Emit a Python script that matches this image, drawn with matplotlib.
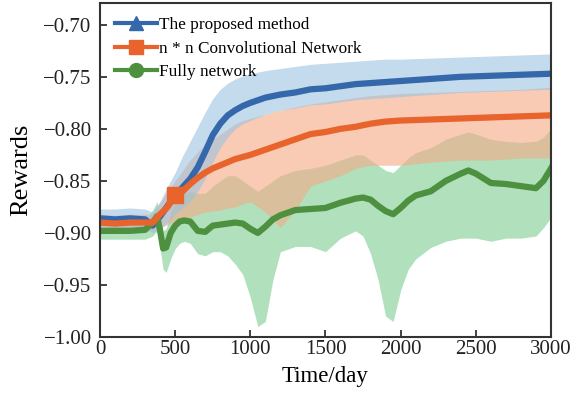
import matplotlib
matplotlib.use('Agg')
from matplotlib import pyplot as plt

# values (days, rewards)
blue_days = [0, 100, 200, 300, 350, 400, 450, 500, 550, 600, 650, 700, 750, 800,
             850, 900, 950, 1000, 1100, 1200, 1300, 1400, 1500, 1600, 1700, 1800,
             1900, 2000, 2200, 2400, 2600, 2800, 3000]
blue_mean = [-0.886, -0.887, -0.886, -0.887, -0.893, -0.884, -0.874, -0.864, -0.856,
             -0.848, -0.837, -0.822, -0.806, -0.795, -0.787, -0.782, -0.778, -0.775,
             -0.770, -0.767, -0.765, -0.762, -0.761, -0.759, -0.757, -0.756, -0.755,
             -0.754, -0.752, -0.750, -0.749, -0.748, -0.747]
blue_upper = [-0.877, -0.877, -0.876, -0.877, -0.880, -0.870, -0.855, -0.842, -0.826,
              -0.812, -0.798, -0.784, -0.771, -0.762, -0.756, -0.752, -0.749, -0.747,
              -0.744, -0.742, -0.740, -0.738, -0.737, -0.736, -0.735, -0.734, -0.733,
              -0.733, -0.732, -0.731, -0.730, -0.729, -0.728]
blue_lower = [-0.894, -0.895, -0.894, -0.895, -0.900, -0.896, -0.890, -0.882, -0.876,
              -0.870, -0.860, -0.848, -0.832, -0.818, -0.808, -0.800, -0.795, -0.792,
              -0.786, -0.782, -0.780, -0.777, -0.776, -0.774, -0.772, -0.771, -0.770,
              -0.769, -0.767, -0.765, -0.764, -0.763, -0.762]

orange_days = blue_days
orange_mean = [-0.890, -0.891, -0.890, -0.890, -0.890, -0.882, -0.875, -0.864, -0.860,
               -0.853, -0.847, -0.842, -0.838, -0.835, -0.832, -0.829, -0.827, -0.825,
               -0.820, -0.815, -0.810, -0.805, -0.803, -0.800, -0.798, -0.795, -0.793,
               -0.792, -0.791, -0.790, -0.789, -0.788, -0.787]
orange_upper = [-0.882, -0.883, -0.882, -0.882, -0.882, -0.870, -0.860, -0.850, -0.840,
                -0.830, -0.822, -0.815, -0.810, -0.805, -0.800, -0.795, -0.792, -0.790,
                -0.786, -0.782, -0.779, -0.776, -0.774, -0.772, -0.770, -0.768, -0.767,
                -0.766, -0.765, -0.764, -0.763, -0.762, -0.760]
orange_lower = [-0.898, -0.899, -0.898, -0.898, -0.898, -0.895, -0.892, -0.888, -0.886,
                -0.885, -0.882, -0.880, -0.879, -0.878, -0.876, -0.875, -0.872, -0.870,
                -0.880, -0.895, -0.878, -0.855, -0.850, -0.845, -0.838, -0.835, -0.835,
                -0.835, -0.832, -0.830, -0.830, -0.828, -0.828]

green_days = [0, 100, 200, 300, 350, 380, 400, 420, 440, 470, 500, 530, 560, 600, 650,
              700, 750, 800, 850, 900, 950, 1000, 1050, 1100, 1150, 1200, 1300, 1400,
              1500, 1600, 1700, 1750, 1800, 1850, 1900, 1950, 2000, 2050, 2100, 2200,
              2300, 2400, 2450, 2500, 2600, 2700, 2800, 2900, 2950, 3000]
green_mean = [-0.898, -0.898, -0.898, -0.897, -0.890, -0.884, -0.898, -0.915, -0.914,
              -0.900, -0.893, -0.889, -0.888, -0.889, -0.898, -0.899, -0.893, -0.892,
              -0.891, -0.890, -0.891, -0.896, -0.900, -0.894, -0.887, -0.883, -0.878,
              -0.877, -0.876, -0.871, -0.867, -0.866, -0.868, -0.874, -0.879, -0.882,
              -0.876, -0.869, -0.864, -0.860, -0.850, -0.843, -0.840, -0.843, -0.852,
              -0.853, -0.855, -0.857, -0.850, -0.838]
green_upper = [-0.890, -0.890, -0.890, -0.889, -0.878, -0.870, -0.882, -0.898, -0.896,
               -0.880, -0.868, -0.864, -0.862, -0.860, -0.862, -0.862, -0.855, -0.850,
               -0.845, -0.845, -0.850, -0.855, -0.860, -0.855, -0.850, -0.845, -0.840,
               -0.838, -0.835, -0.830, -0.825, -0.825, -0.830, -0.835, -0.840, -0.842,
               -0.835, -0.828, -0.823, -0.818, -0.810, -0.805, -0.803, -0.805, -0.810,
               -0.812, -0.813, -0.812, -0.808, -0.800]
green_lower = [-0.906, -0.906, -0.906, -0.906, -0.903, -0.898, -0.915, -0.935, -0.938,
               -0.925, -0.915, -0.910, -0.908, -0.910, -0.920, -0.922, -0.918, -0.918,
               -0.922, -0.930, -0.940, -0.962, -0.990, -0.985, -0.945, -0.918, -0.913,
               -0.913, -0.918, -0.905, -0.898, -0.903, -0.920, -0.945, -0.980, -0.985,
               -0.955, -0.935, -0.925, -0.914, -0.908, -0.905, -0.905, -0.905, -0.908,
               -0.905, -0.905, -0.903, -0.895, -0.885]

ytick_vals = [-1.0, -0.95, -0.9, -0.85, -0.8, -0.75, -0.7]
ytick_text = ['\u22121.00', '\u22120.95', '\u22120.90', '\u22120.85',
              '\u22120.80', '\u22120.75', '\u22120.70']
xtick_vals = [0, 500, 1000, 1500, 2000, 2500, 3000]

plt.rcParams['font.family'] = ['Liberation Serif', 'DejaVu Serif']

fig = plt.figure(figsize=(5.74, 3.93), dpi=100)
ax = fig.add_axes([0.1742, 0.1425, 0.7857, 0.85])

ax.fill_between(green_days, green_lower, green_upper, color='#8fd3a0', alpha=0.7, lw=0)
ax.fill_between(orange_days, orange_lower, orange_upper, color='#f6a985', alpha=0.6, lw=0)
ax.fill_between(blue_days, blue_lower, blue_upper, color='#9cc3e0', alpha=0.6, lw=0)

ax.plot(blue_days, blue_mean, color='#3567ab', lw=4.5, marker='^', markersize=11,
        markevery=[], label='The proposed method')
ax.plot(green_days, green_mean, color='#4d9140', lw=4.5, marker='o', markersize=10,
        markevery=[], label='Fully network')
ax.plot(orange_days, orange_mean, color='#e8642c', lw=4.5, marker='s', markersize=11,
        markevery=[7], label='n * n Convolutional Network')

ax.set_xlim(0, 3000)
ax.set_ylim(-1.0, -0.679)
ax.set_yticks(ytick_vals)
ax.set_yticklabels(ytick_text)
ax.set_xticks(xtick_vals)
ax.tick_params(direction='in', length=5, width=1.2, labelsize=15, colors='#222222')
ax.tick_params(axis='x', pad=2)
ax.tick_params(axis='y', pad=6)
for sp in ax.spines.values():
    sp.set_linewidth(1.5)
    sp.set_color('#333333')

ax.set_xlabel('Time/day', fontsize=16.5, labelpad=5)
ax.set_ylabel('Rewards', fontsize=19, labelpad=8)

handles, labels = ax.get_legend_handles_labels()
order = [0, 2, 1]
leg_handles = []
for i in order:
    h = handles[i]
    proxy, = ax.plot([], [], color=h.get_color(), lw=3, marker=h.get_marker(),
                     markersize=10)
    leg_handles.append(proxy)
ax.legend(leg_handles, [labels[i] for i in order], loc='upper left',
          bbox_to_anchor=(0.0, 1.005), fontsize=12.4, frameon=False,
          handlelength=2.4, handletextpad=0.1, labelspacing=0.45,
          borderaxespad=0.5)

fig.savefig('out.png', dpi=100)
